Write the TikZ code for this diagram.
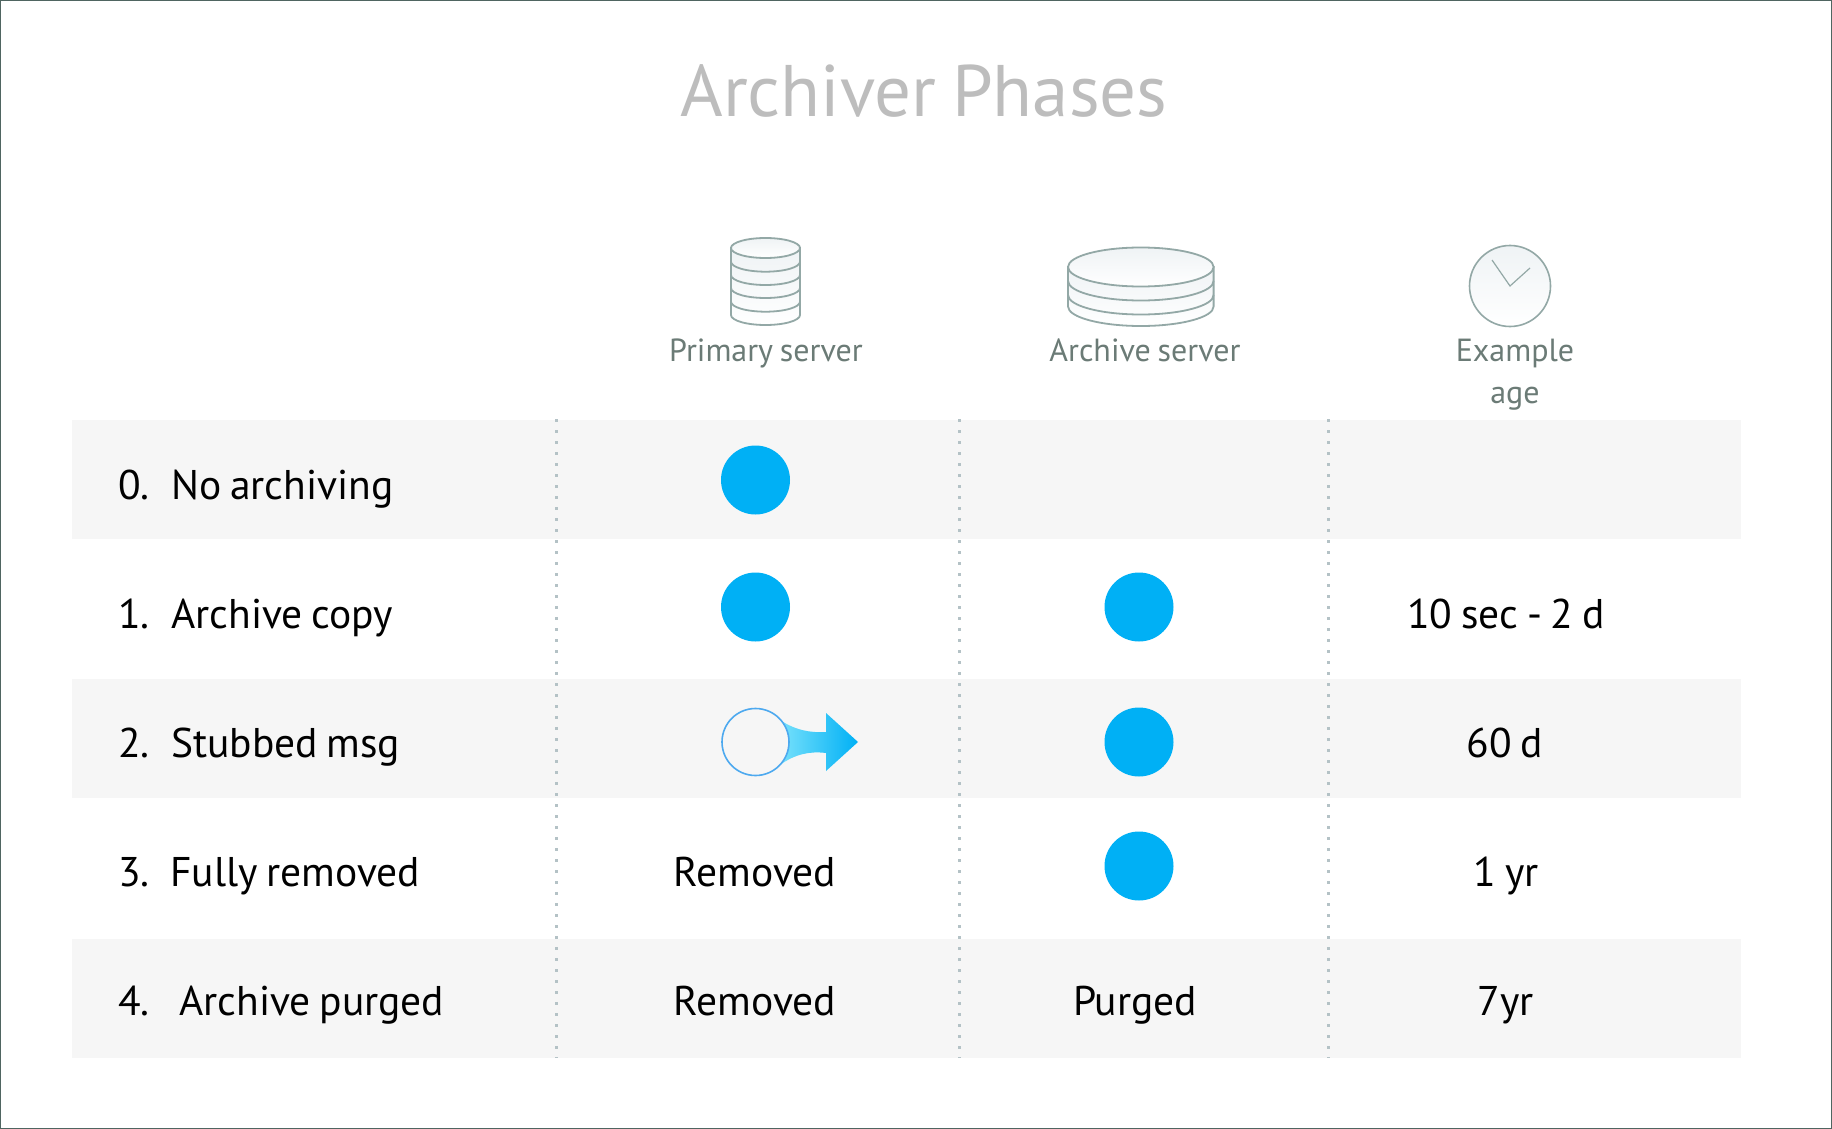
\documentclass[tikz,border=0pt]{standalone}
\usepackage{fontspec}
\setmainfont[WordSpace=0.8]{PT Sans}
\usepackage{tikz}

\definecolor{bandgray}{HTML}{F6F6F6}
\definecolor{frameline}{HTML}{4F6561}
\definecolor{titlegray}{HTML}{BDBDBD}
\definecolor{headgray}{HTML}{6B7B76}
\definecolor{iconline}{HTML}{93A8A6}
\definecolor{iconfill}{HTML}{EFF3F5}
\definecolor{dotblue}{HTML}{00B0F5}
\definecolor{ringblue}{HTML}{4DA9EF}
\definecolor{sepgray}{HTML}{B4C2C6}

\tikzset{
	band/.style={shape=rectangle,fill=bandgray,minimum width=1669pt,minimum height=119pt,inner sep=0pt},
	dot/.style={shape=circle,fill=dotblue,minimum size=69pt,inner sep=0pt},
	rowtext/.style={anchor=base west,inner sep=0pt,font=\fontsize{41.5}{41.5}\selectfont},
	celltext/.style={anchor=base,inner sep=0pt,font=\fontsize{41.5}{41.5}\selectfont},
	headtext/.style={anchor=base,inner sep=0pt,text=headgray,font=\fontsize{32}{32}\selectfont},
	sepline/.style={draw=sepgray,line width=3pt,dash pattern=on 3pt off 8pt},
	iconpath/.style={draw=iconline,line width=1.8pt}
}

\begin{document}
\begin{tikzpicture}[x=1pt,y=-1pt]

	\useasboundingbox (0,0) rectangle (1832,1129);
	\fill[white] (0,0) rectangle (1832,1129);
	\draw[frameline,line width=2.4pt] (0,0) rectangle (1832,1129);

	\node[anchor=base,inner sep=0pt,text=titlegray,font=\fontsize{73}{73}\selectfont] (title) at (924,117) {Archiver Phases};

	\node[band] (band0) at (906,479.5) {};
	\node[band] (band2) at (906,738.5) {};
	\node[band] (band4) at (906,998.5) {};

	\coordinate (sepAtop) at (556,419);
	\coordinate (sepAbot) at (556,1058);
	\coordinate (sepBtop) at (959,419);
	\coordinate (sepBbot) at (959,1058);
	\coordinate (sepCtop) at (1328,419);
	\coordinate (sepCbot) at (1328,1058);
	\path[sepline] (sepAtop) -- (sepAbot);
	\path[sepline] (sepBtop) -- (sepBbot);
	\path[sepline] (sepCtop) -- (sepCbot);

	\path[iconpath,top color=iconfill,bottom color=white] (731,248) -- (731,315) arc[start angle=180,end angle=360,x radius=34.5pt,y radius=10pt] -- (800,248) -- cycle;
	\draw[iconpath] (731,261.7) arc[start angle=180,end angle=360,x radius=34.5pt,y radius=10pt];
	\draw[iconpath] (731,275) arc[start angle=180,end angle=360,x radius=34.5pt,y radius=10pt];
	\draw[iconpath] (731,288) arc[start angle=180,end angle=360,x radius=34.5pt,y radius=10pt];
	\draw[iconpath] (731,301.7) arc[start angle=180,end angle=360,x radius=34.5pt,y radius=10pt];
	\path[iconpath,top color=iconfill,bottom color=white] (765.5,248) ellipse[x radius=34.5pt,y radius=10pt];

	\path[iconpath,top color=iconfill,bottom color=white] (1068,267) -- (1068,306.5) arc[start angle=180,end angle=360,x radius=72.8pt,y radius=19.5pt] -- (1213.6,267) -- cycle;
	\draw[iconpath] (1068,281) arc[start angle=180,end angle=360,x radius=72.8pt,y radius=19.5pt];
	\draw[iconpath] (1068,295) arc[start angle=180,end angle=360,x radius=72.8pt,y radius=19.5pt];
	\path[iconpath,top color=iconfill,bottom color=white] (1140.8,267) ellipse[x radius=72.8pt,y radius=19.5pt];

	\node[shape=circle,draw=iconline,line width=1.6pt,top color=iconfill,bottom color=white,minimum size=81pt,inner sep=0pt] (clock) at (1510,286) {};
	\draw[iconline,line width=1.2pt] (1492,260) -- (clock.center) -- (1530,268);

	\node[headtext] (primaryhead) at (766,361) {Primary server};
	\node[headtext] (archivehead) at (1145,361) {Archive server};
	\node[headtext] (agehead) at (1515,361) {Example};
	\node[headtext] (agehead2) at (1515,403) {age};

	\node[rowtext] (num0) at (118,499) {0.};
	\node[rowtext] (num1) at (118,628) {1.};
	\node[rowtext] (num2) at (118,757) {2.};
	\node[rowtext] (num3) at (118,886) {3.};
	\node[rowtext] (num4) at (118,1015) {4.};

	\node[rowtext] (phase0) at (171,499) {No archiving};
	\node[rowtext] (phase1) at (171,628) {Archive copy};
	\node[rowtext] (phase2) at (171,757) {Stubbed msg};
	\node[rowtext] (phase3) at (170,886) {Fully removed};
	\node[rowtext] (phase4) at (179,1015) {Archive purged};

	\node[dot] (dot01) at (755.5,480) {};
	\node[dot] (dot11) at (755.5,607) {};
	\node[dot] (dot12) at (1139,607) {};
	\node[dot] (dot22) at (1139,742) {};
	\node[dot] (dot32) at (1139,866) {};

	\path[left color=dotblue!45!white!85!cyan,right color=dotblue] (780,720) .. controls (795,730) and (810,733) .. (826,732) -- (826,713) -- (858,742) -- (826,771) -- (826,753) .. controls (810,751) and (795,754) .. (780,765) -- cycle;
	\node[shape=circle,draw=ringblue,fill=bandgray,line width=1.6pt,minimum size=67pt,inner sep=0pt] (ring21) at (755.5,742) {};

	\node[celltext] (age1) at (1506,628) {10 sec - 2 d};
	\node[celltext] (age2) at (1505,757) {60 d};
	\node[celltext] (age3) at (1506,886) {1 yr};
	\node[celltext] (age4) at (1506,1015) {7yr};
	\node[celltext] (removed3) at (755,886) {Removed};
	\node[celltext] (removed4) at (755,1015) {Removed};
	\node[celltext] (purged4) at (1135,1015) {Purged};

\end{tikzpicture}
\end{document}
